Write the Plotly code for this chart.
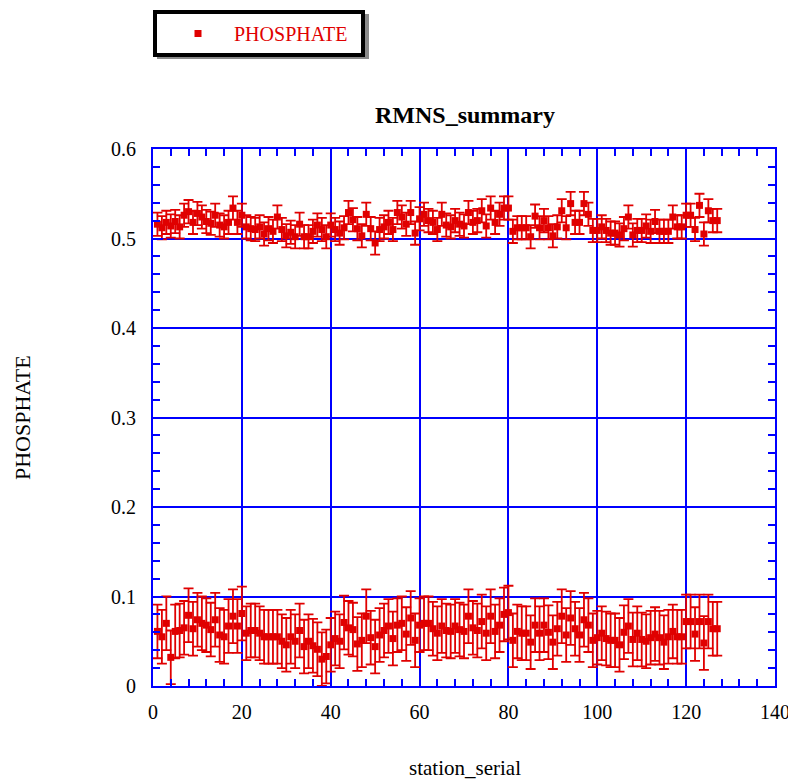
import plotly.graph_objects as go

station_serial = list(range(1, 128))

upper_values = [
    .516, .512, .518, .514, .519, .513, .526, .530, .518, .528,
    .524, .519, .517, .526, .515, .513, .518, .534, .518, .526,
    .513, .511, .510, .513, .505, .511, .508, .524, .510, .503,
    .507, .502, .516, .502, .502, .508, .515, .510, .502, .515,
    .510, .506, .512, .529, .521, .511, .503, .527, .511, .495,
    .510, .513, .518, .510, .529, .524, .516, .529, .506, .522,
    .527, .520, .518, .510, .527, .515, .513, .520, .516, .514,
    .529, .518, .520, .531, .514, .534, .518, .527, .534, .534,
    .508, .512, .512, .512, .502, .525, .512, .520, .512, .503,
    .513, .531, .512, .539, .518, .518, .539, .527, .509, .509,
    .513, .509, .506, .506, .504, .511, .524, .504, .509, .509,
    .514, .508, .519, .508, .508, .508, .524, .513, .513, .526,
    .526, .510, .537, .505, .531, .520, .520,
]

lower_values = [
    .061, .055, .070, .032, .061, .062, .065, .079, .064, .074,
    .070, .068, .063, .074, .057, .055, .067, .078, .067, .081,
    .059, .062, .062, .059, .055, .055, .055, .055, .050, .046,
    .055, .050, .062, .044, .050, .045, .041, .030, .033, .046,
    .053, .050, .071, .065, .063, .047, .051, .078, .054, .044,
    .057, .062, .067, .053, .068, .070, .058, .076, .051, .068,
    .070, .070, .064, .059, .067, .062, .061, .067, .063, .061,
    .078, .065, .062, .072, .059, .078, .061, .068, .080, .082,
    .051, .061, .059, .059, .049, .068, .059, .068, .060, .049,
    .064, .078, .057, .076, .064, .057, .074, .068, .051, .054,
    .059, .053, .051, .051, .046, .060, .067, .052, .059, .052,
    .050, .054, .058, .054, .049, .055, .061, .055, .055, .072,
    .072, .058, .072, .048, .072, .064, .064,
]

upper_err = [0.013] * len(upper_values)
lower_err = [0.030] * len(lower_values)

x_all = station_serial + station_serial
y_all = upper_values + lower_values
err_all = upper_err + lower_err

RED = "#e00000"
BLUE = "#0000ff"
FONT = "Liberation Serif"

W, H = 788, 774
PW, PH = 622, 537  # plot area size in px

fig = go.Figure()
fig.add_trace(go.Scatter(
    x=x_all, y=y_all, mode="markers", name="PHOSPHATE",
    marker=dict(symbol="square", size=7, color=RED),
    error_y=dict(type="data", array=err_all, visible=True, color=RED,
                 thickness=1.8, width=5),
))

axis_common = dict(
    showline=True, linecolor=BLUE, linewidth=2, mirror="ticks",
    showgrid=True, gridcolor=BLUE, gridwidth=1.6,
    ticks="inside", tickcolor=BLUE, ticklen=10, tickwidth=1.5,
    zeroline=False, automargin=False,
    tickfont=dict(family=FONT, size=20, color="black"),
)

fig.update_xaxes(
    range=[0, 140], dtick=20, tick0=0, ticklabelstandoff=7,
    minor=dict(dtick=4, ticks="inside", ticklen=7, tickcolor=BLUE, tickwidth=1.5, showgrid=False),
    **axis_common,
)
fig.update_yaxes(
    range=[0, 0.6], dtick=0.1, tick0=0, ticklabelstandoff=11,
    minor=dict(dtick=0.02, ticks="inside", ticklen=7, tickcolor=BLUE, tickwidth=1.5, showgrid=False),
    **axis_common,
)

# axis titles
fig.add_annotation(text="station_serial", xref="paper", yref="paper",
                   x=(465 - 153) / PW, y=(686 - 768) / PH, xanchor="center", yanchor="middle",
                   showarrow=False, font=dict(family=FONT, size=21, color="black"))
fig.add_annotation(text="PHOSPHATE", xref="paper", yref="paper",
                   x=(22 - 153) / PW, y=(686 - 418) / PH, xanchor="center", yanchor="middle",
                   textangle=-90, showarrow=False, font=dict(family=FONT, size=22, color="black"))

# legend drop shadow
fig.add_shape(type="rect", xref="paper", yref="paper",
              x0=4 / PW, x1=216 / PW, y0=(686 - 59) / PH, y1=(686 - 14) / PH,
              fillcolor="#8a8a8a", line=dict(width=0), layer="above")

fig.update_layout(
    width=W, height=H,
    margin=dict(l=145, r=21, t=141, b=96, autoexpand=False),
    plot_bgcolor="white", paper_bgcolor="white",
    title=dict(text="<b>RMNS_summary</b>", x=(465 - 8) / W, xanchor="center",
               y=1 - 107 / H, yanchor="middle",
               font=dict(family=FONT, size=24, color="black")),
    showlegend=True,
    legend=dict(x=0.0, y=(686 - 10) / PH, xanchor="left", yanchor="top",
                orientation="h",
                bordercolor="black", borderwidth=4, bgcolor="white",
                font=dict(family=FONT, size=20, color=RED),
                indentation=5, itemwidth=62,
                entrywidth=122, entrywidthmode="pixels"),
)

fig.write_html("out.html")
